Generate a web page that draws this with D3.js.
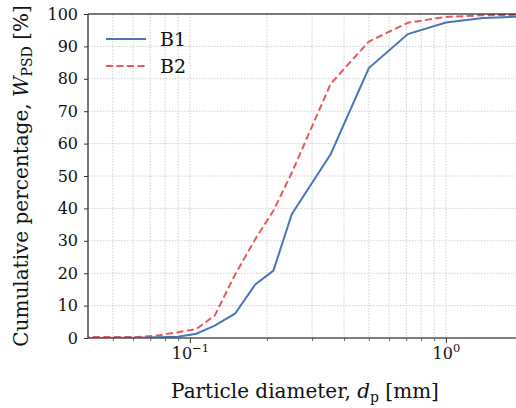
<!DOCTYPE html>
<html><head><meta charset="utf-8">
<script src="https://cdn.jsdelivr.net/npm/d3@7"></script>
<style>
body{margin:0;background:#fff;}
text{font-family:"DejaVu Serif","Liberation Serif",serif;}
</style></head>
<body><svg id="c" width="516" height="408"></svg>
<script>
const sizes = [0.038, 0.045, 0.063, 0.075, 0.09, 0.106, 0.125, 0.15, 0.18, 0.212, 0.25, 0.355, 0.5, 0.71, 1.0, 1.4, 2.0];
const b1 = [0.0, 0.0, 0.1, 0.2, 0.4, 1.3, 3.8, 7.5, 16.5, 20.8, 38.2, 56.8, 83.3, 93.8, 97.4, 98.8, 99.2];
const b2 = [0.3, 0.3, 0.3, 0.8, 1.8, 2.8, 6.9, 19.5, 30.5, 39.3, 51.0, 78.5, 91.5, 97.3, 99.1, 99.6, 99.8];
const seriesNames = ["B1", "B2"];
const yTicks = [0,10,20,30,40,50,60,70,80,90,100];
const xMajor = [0.1, 1];
const xMajorExp = ["\u22121", "0"];
const xMinor = [0.05,0.06,0.07,0.08,0.09,0.2,0.3,0.4,0.5,0.6,0.7,0.8,0.9,2];

const svg = d3.select("#c");
const L = 88, R = 523, T = 14, B = 338;
const x = d3.scaleLog().domain([0.04, 2]).range([L, R]);
const y = d3.scaleLinear().domain([0, 100]).range([B, T]);

const clip = svg.append("defs").append("clipPath").attr("id","cp")
  .append("rect").attr("x",L).attr("y",T).attr("width",R-L).attr("height",B-T);

// grid
const g = svg.append("g");
g.selectAll(".gy").data(yTicks.slice(1)).join("line")
  .attr("x1",L).attr("x2",R).attr("y1",d=>y(d)).attr("y2",d=>y(d))
  .attr("stroke","#c8c8c8").attr("stroke-width",0.9).attr("stroke-dasharray","1.5,1.5");
g.selectAll(".gx").data(xMajor.concat(xMinor)).join("line")
  .attr("x1",d=>x(d)).attr("x2",d=>x(d)).attr("y1",T).attr("y2",B)
  .attr("stroke","#c8c8c8").attr("stroke-width",0.9).attr("stroke-dasharray","1.5,1.5");

// lines
const line = d3.line().x((d,i)=>x(sizes[i])).y(d=>y(d));
const pg = svg.append("g").attr("clip-path","url(#cp)");
pg.append("path").datum(b2).attr("d",line).attr("fill","none")
  .attr("stroke","#e8585c").attr("stroke-width",2).attr("stroke-dasharray","7,3.5");
pg.append("path").datum(b1).attr("d",line).attr("fill","none")
  .attr("stroke","#4c74b8").attr("stroke-width",2);

// spines
svg.append("line").attr("x1",L).attr("x2",R).attr("y1",T).attr("y2",T).attr("stroke","#000").attr("stroke-width",1.2);
svg.append("line").attr("x1",L).attr("x2",L).attr("y1",T).attr("y2",B+1).attr("stroke","#555").attr("stroke-width",1.6);
svg.append("line").attr("x1",L).attr("x2",R).attr("y1",B).attr("y2",B).attr("stroke","#555").attr("stroke-width",1.6);

// y axis
const yAxis = d3.axisLeft(y).tickValues(yTicks).tickSize(4).tickPadding(6).tickFormat(d3.format("d"));
const ya = svg.append("g").attr("transform",`translate(${L},0)`).call(yAxis);
ya.select(".domain").remove();
ya.selectAll("line").attr("stroke","#333").attr("stroke-width",1);
ya.selectAll("text").attr("font-size",16).attr("fill","#111")
  .attr("font-family","'DejaVu Serif',serif");

// x axis minor
const xMinorAxis = d3.axisBottom(x).tickValues(xMinor).tickSize(3).tickFormat("");
const xm = svg.append("g").attr("transform",`translate(0,${B})`).call(xMinorAxis);
xm.select(".domain").remove();
xm.selectAll("line").attr("stroke","#444").attr("stroke-width",0.8);
const xMajorAxis = d3.axisBottom(x).tickValues(xMajor).tickSize(5).tickFormat("");
const xa = svg.append("g").attr("transform",`translate(0,${B})`).call(xMajorAxis);
xa.select(".domain").remove();
xa.selectAll("line").attr("stroke","#333").attr("stroke-width",1);
xa.selectAll(".tick").each(function(d,i){
  const t = d3.select(this).append("text").attr("y",21).attr("text-anchor","middle")
    .attr("fill","#111").attr("font-size",16);
  t.append("tspan").text("10");
  t.append("tspan").attr("dy",-7).attr("font-size",11.5).text(xMajorExp[i]);
});

// axis labels
const xl = svg.append("text").attr("x",305).attr("y",398).attr("text-anchor","middle")
  .attr("font-size",20).attr("fill","#111");
xl.append("tspan").text("Particle diameter, ");
xl.append("tspan").attr("font-style","italic").text("d");
xl.append("tspan").attr("dy",4).attr("font-size",14).text("p");
xl.append("tspan").attr("dy",-4).text(" [mm]");

const yl = svg.append("text").attr("transform","translate(28,176) rotate(-90)").attr("text-anchor","middle")
  .attr("font-size",20).attr("fill","#111");
yl.append("tspan").text("Cumulative percentage, ");
yl.append("tspan").attr("font-style","italic").text("W");
yl.append("tspan").attr("dy",4).attr("font-size",14).text("PSD");
yl.append("tspan").attr("dy",-4).text(" [%]");

// legend
const leg = svg.append("g");
const legColors = ["#4c74b8","#e8585c"], legDash = [null,"7,3.5"];
seriesNames.forEach((n,i)=>{
  const yy = 39 + i*27;
  leg.append("line").attr("x1",106).attr("x2",146).attr("y1",yy).attr("y2",yy)
    .attr("stroke",legColors[i]).attr("stroke-width",2).attr("stroke-dasharray",legDash[i]);
  leg.append("text").attr("x",160).attr("y",yy+7).attr("font-size",19).attr("fill","#111").text(n);
});
</script></body></html>
